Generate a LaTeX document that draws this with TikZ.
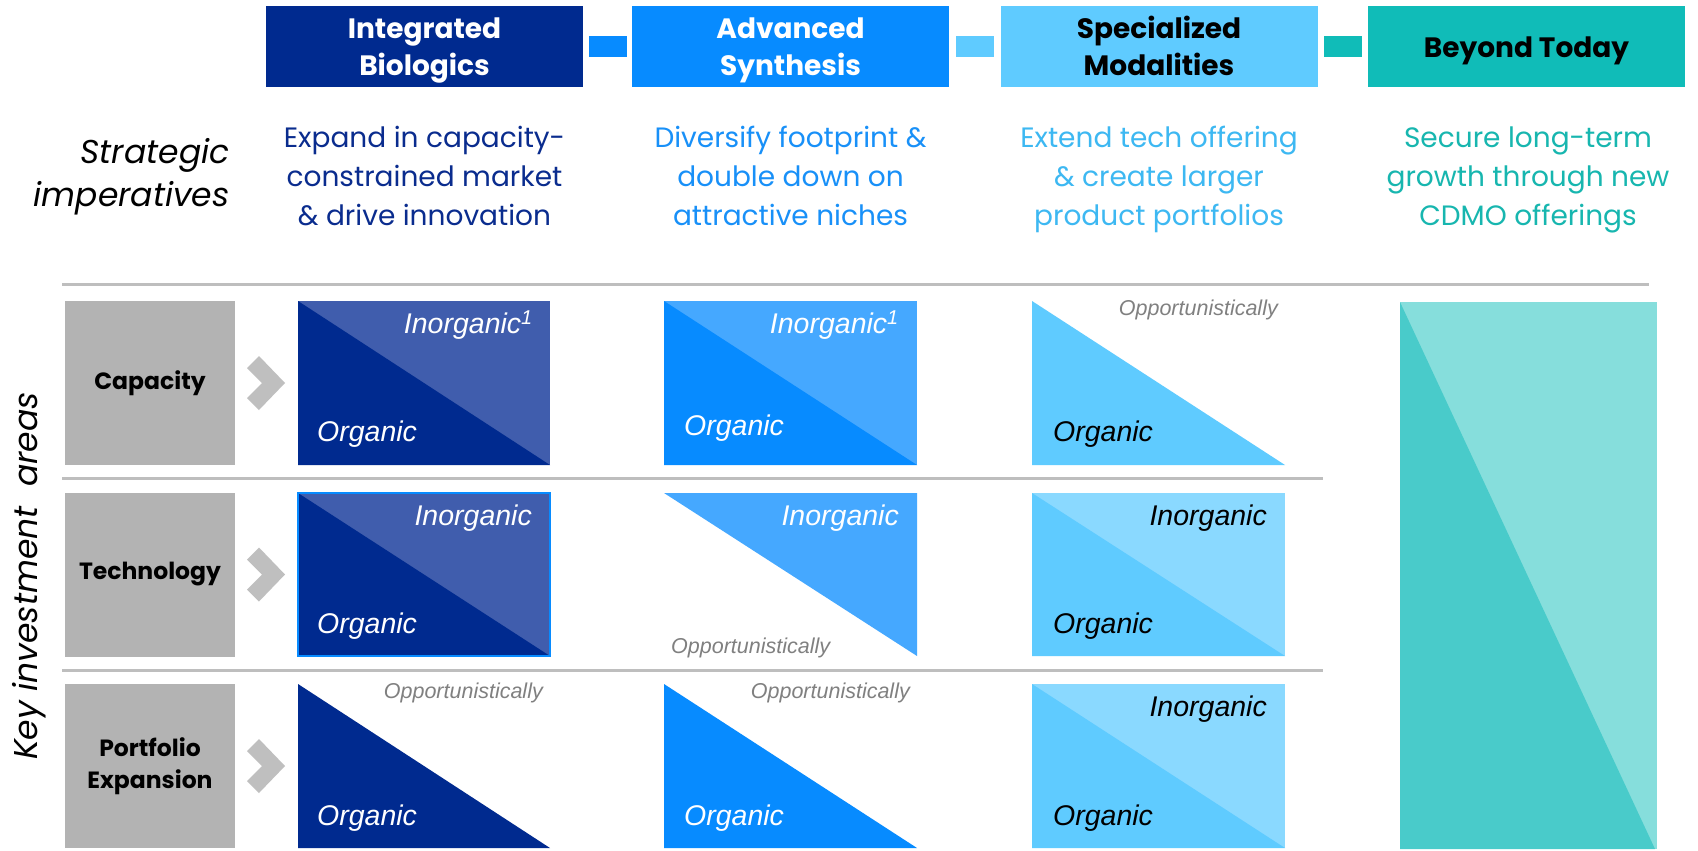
\documentclass[tikz,border=0pt]{standalone}
\usepackage{fontspec}
\setmainfont{Poppins}
\newfontfamily\cellfont{Liberation Sans}
\usepackage{tikz}
\usetikzlibrary{positioning, calc}

\definecolor{ibnavy}{HTML}{002A8F}
\definecolor{iblight}{HTML}{405DAD}
\definecolor{asblue}{HTML}{078BFF}
\definecolor{aslight}{HTML}{45A8FF}
\definecolor{smblue}{HTML}{5FCBFF}
\definecolor{smlight}{HTML}{8AD9FF}
\definecolor{btteal}{HTML}{10BCB8}
\definecolor{btmid}{HTML}{49CBCA}
\definecolor{btlight}{HTML}{86DEDC}
\definecolor{ibtext}{HTML}{0A2C8E}
\definecolor{astext}{HTML}{1890F8}
\definecolor{smtext}{HTML}{3DB8F2}
\definecolor{bttext}{HTML}{17B6AF}
\definecolor{boxgray}{HTML}{B3B3B3}
\definecolor{linegray}{HTML}{BEBEBE}
\definecolor{chevgray}{HTML}{BFBFBF}
\definecolor{oppgray}{HTML}{808080}

% line strut for the header titles, sits a bit low
\newcommand\hdrstrut{\rule[-8.3pt]{0pt}{37pt}}

\begin{document}
\begin{tikzpicture}[
  x=1pt, y=-1pt,
  hdr/.style={fill=#1, minimum width=317pt, minimum height=81pt, inner sep=0pt,
    align=center, font=\fontsize{28}{37}\selectfont\bfseries},
  link/.style={fill=#1, minimum width=38pt, minimum height=21pt, inner sep=0pt},
  desc/.style={text=#1, align=center, font=\fontsize{28}{39}\selectfont},
  area/.style={fill=boxgray, minimum width=170pt, minimum height=164pt, inner sep=0pt,
    align=center, font=\fontsize{23.5}{32}\selectfont\bfseries},
  lbl/.style={text=#1, inner sep=0pt, font=\cellfont\fontsize{28.5}{30}\selectfont\itshape},
  opp/.style={text=oppgray, inner sep=0pt, font=\cellfont\fontsize{21.5}{24}\selectfont\itshape},
]
\useasboundingbox (0,0) rectangle (1698,851);
\fill[white] (0,0) rectangle (1698,851);

% Header
\node[hdr=ibnavy, text=white] (ib) at (424.5,47) {\hdrstrut Integrated\\\hdrstrut Biologics};
\node[hdr=asblue, text=white] (as) at (790.5,47) {\hdrstrut Advanced\\\hdrstrut Synthesis};
\node[hdr=smblue] (sm) at (1159,47) {\hdrstrut Specialized\\\hdrstrut Modalities};
\node[hdr=btteal] (bt) at (1526.5,47) {\hdrstrut Beyond Today};
\node[link=asblue] (l1) at ($(ib.east)!0.5!(as.west)$) {};
\node[link=smblue] (l2) at ($(as.east)!0.5!(sm.west)$) {};
\node[link=btteal] (l3) at ($(sm.east)!0.5!(bt.west)$) {};

% Imperatives
\node[anchor=east, align=right, font=\fontsize{33}{43}\selectfont\itshape] (imp) at (233,177) {Strategic\\imperatives};
\node[desc=ibtext] (dib) at (424.5,178.5) {\strut Expand in capacity-\\\strut constrained market\\\strut\& drive innovation};
\node[desc=astext] (das) at (790.5,178.5) {\strut Diversify footprint \&\\\strut double down on\\\strut attractive niches};
\node[desc=smtext] (dsm) at (1159,178.5) {\strut Extend tech offering\\\strut\& create larger\\\strut product portfolios};
\node[desc=bttext] (dbt) at (1528,178.5) {\strut Secure long-term\\\strut growth through new\\\strut CDMO offerings};

% Separators
\draw[linegray, line width=3] (62,284) -- (1649,284);
\draw[linegray, line width=3] (62,478) -- (1323,478);
\draw[linegray, line width=3] (62,670) -- (1323,670);

% Investment areas
\node[rotate=90, font=\fontsize{33}{40}\selectfont\itshape] (key) at (29,576) {Key investment\ \ areas};
\node[area] (cap) at (150,383) {Capacity};
\node[area] (tech) at (150,574.5) {Technology};
\node[area] (port) at (150,766) {Portfolio\\Expansion};
\foreach \y in {383,574.5,766} {
  \fill[chevgray] (247,\y-15) -- (259,\y-27) -- (285,\y) -- (259,\y+27) -- (247,\y+15) -- (262,\y) -- cycle;
}

% Capacity row
\fill[iblight] (298,301) rectangle (550,465);
\fill[ibnavy] (298,301) -- (550,465) -- (298,465) -- cycle;
\node[lbl=white, anchor=east] (c1in) at (533,325) {Inorganic\textsuperscript{1}};
\node[lbl=white, anchor=west] (c1org) at (317,434) {Organic};
\fill[aslight] (664,301) rectangle (917,465);
\fill[asblue] (664,301) -- (917,465) -- (664,465) -- cycle;
\node[lbl=white, anchor=east] (c2in) at (899,325) {Inorganic\textsuperscript{1}};
\node[lbl=white, anchor=west] (c2org) at (684,428) {Organic};
\fill[smblue] (1032,301) -- (1285,465) -- (1032,465) -- cycle;
\node[opp, anchor=east] (c3opp) at (1278,310) {Opportunistically};
\node[lbl=black, anchor=west] (c3org) at (1053,434) {Organic};

% Technology row
\fill[iblight] (298,493) rectangle (550,656);
\fill[ibnavy] (298,493) -- (550,656) -- (298,656) -- cycle;
\draw[asblue, line width=1.5] (298,493) rectangle (550,656);
\node[lbl=white, anchor=east] (t1in) at (532,518) {Inorganic};
\node[lbl=white, anchor=west] (t1org) at (317,626) {Organic};
\fill[aslight] (664,493) -- (917,493) -- (917,656) -- cycle;
\node[lbl=white, anchor=east] (t2in) at (899,518) {Inorganic};
\node[opp, anchor=west] (t2opp) at (671,648) {Opportunistically};
\fill[smlight] (1032,493) rectangle (1285,656);
\fill[smblue] (1032,493) -- (1285,656) -- (1032,656) -- cycle;
\node[lbl=black, anchor=east] (t3in) at (1267,518) {Inorganic};
\node[lbl=black, anchor=west] (t3org) at (1053,626) {Organic};

% Portfolio row
\fill[ibnavy] (298,684) -- (550,848) -- (298,848) -- cycle;
\node[opp, anchor=east] (p1opp) at (543,693) {Opportunistically};
\node[lbl=white, anchor=west] (p1org) at (317,818) {Organic};
\fill[asblue] (664,684) -- (917,848) -- (664,848) -- cycle;
\node[opp, anchor=east] (p2opp) at (910,693) {Opportunistically};
\node[lbl=white, anchor=west] (p2org) at (684,818) {Organic};
\fill[smlight] (1032,684) rectangle (1285,848);
\fill[smblue] (1032,684) -- (1285,848) -- (1032,848) -- cycle;
\node[lbl=black, anchor=east] (p3in) at (1267,709) {Inorganic};
\node[lbl=black, anchor=west] (p3org) at (1053,818) {Organic};

% Beyond today column
\fill[btlight] (1400,302) rectangle (1657,849);
\fill[btmid] (1400,302) -- (1655,849) -- (1400,849) -- cycle;

\end{tikzpicture}
\end{document}
